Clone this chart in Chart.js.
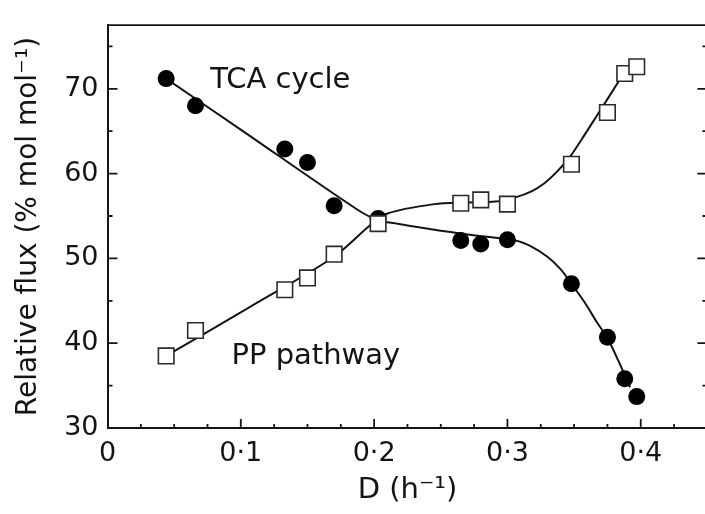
<!DOCTYPE html>
<html>
<head>
<meta charset="utf-8">
<script src="https://cdn.jsdelivr.net/npm/chart.js@4"></script>
<style>
html, body { margin: 0; padding: 0; background: #fff; overflow: hidden; width: 705px; height: 514px; }
</style>
</head>
<body>
<canvas id="chart-1" width="720" height="514"></canvas>
<script>
// Measured points (dilution rate D, h^-1) and relative fluxes (% mol mol^-1)
const dilutionRates = [0.044, 0.066, 0.133, 0.150, 0.170, 0.203, 0.265, 0.280, 0.300, 0.348, 0.375, 0.388, 0.397];
const tcaFlux = [71.2, 68.0, 62.9, 61.3, 56.2, 54.7, 52.1, 51.7, 52.2, 47.0, 40.7, 35.8, 33.7];
const ppFlux = [38.5, 41.5, 46.3, 47.7, 50.5, 54.1, 56.5, 56.9, 56.4, 61.1, 67.2, 71.8, 72.6];

// Fitted curves
const tcaFitD = [0.044, 0.098, 0.187, 0.203, 0.217, 0.244, 0.276, 0.306, 0.318, 0.330, 0.340, 0.348, 0.358, 0.367, 0.375, 0.383, 0.392];
const tcaFitFlux = [71.2, 65.4, 55.8, 54.5, 54.1, 53.4, 52.7, 52.1, 51.4, 50.2, 48.7, 47.0, 44.8, 42.5, 40.6, 38.0, 34.8];
const ppFitD = [0.044, 0.106, 0.170, 0.197, 0.210, 0.245, 0.269, 0.291, 0.306, 0.318, 0.328, 0.337, 0.347, 0.358, 0.369, 0.386];
const ppFitFlux = [38.5, 44.2, 50.2, 53.9, 55.3, 56.4, 56.6, 56.7, 57.2, 57.9, 58.9, 60.2, 62.0, 64.6, 67.3, 71.5];

const xTicks = [0, 0.1, 0.2, 0.3, 0.4];
const yTicks = [30, 40, 50, 60, 70];

const ink = '#141414';
const fontFamily = '"DejaVu Sans", sans-serif';

const toPoints = (xs, ys) => xs.map((d, i) => ({ x: d, y: ys[i] }));

// Frame on top/right plus inward major and minor ticks
const frame = {
    id: 'frame',
    afterDatasetsDraw(chart) {
        const { ctx, chartArea: a, scales: { x, y } } = chart;
        ctx.save();
        ctx.strokeStyle = ink;
        ctx.lineWidth = 1.8;
        ctx.beginPath();
        ctx.moveTo(a.left, a.top);
        ctx.lineTo(a.right, a.top);
        ctx.lineTo(a.right, a.bottom);
        for (let i = 1; i < 18; i++) {
            const px = x.getPixelForValue(i * 0.025);
            const len = i % 4 === 0 ? 9 : 4;
            ctx.moveTo(px, a.bottom);
            ctx.lineTo(px, a.bottom - len);
        }
        for (let i = 1; i < 10; i++) {
            const py = y.getPixelForValue(30 + i * 5);
            const len = i % 2 === 0 ? 10 : 5;
            ctx.moveTo(a.left, py);
            ctx.lineTo(a.left + len, py);
            ctx.moveTo(a.right, py);
            ctx.lineTo(a.right - len, py);
        }
        ctx.stroke();

        // curve labels
        ctx.fillStyle = ink;
        ctx.font = '29px ' + fontFamily;
        ctx.textBaseline = 'alphabetic';
        ctx.fillText('TCA cycle', x.getPixelForValue(0.077), y.getPixelForValue(70.1));
        ctx.fillText('PP pathway', x.getPixelForValue(0.093), y.getPixelForValue(37.5));
        ctx.restore();
    }
};

const ctx1 = document.getElementById('chart-1').getContext('2d');
const fluxChart = new Chart(ctx1, {
    type: 'scatter',
    data: {
        datasets: [
            {
                label: 'PP pathway',
                data: toPoints(dilutionRates, ppFlux),
                pointStyle: 'rect',
                pointRadius: 11,
                backgroundColor: '#ffffff',
                borderColor: '#2a2a2a',
                borderWidth: 1.6,
                order: 1,
            },
            {
                label: 'TCA cycle',
                data: toPoints(dilutionRates, tcaFlux),
                pointStyle: 'circle',
                pointRadius: 8.5,
                backgroundColor: '#000000',
                borderColor: '#000000',
                borderWidth: 0,
                order: 2,
            },
            {
                label: 'PP fit',
                data: toPoints(ppFitD, ppFitFlux),
                showLine: true,
                tension: 0.3,
                pointRadius: 0,
                borderColor: ink,
                borderWidth: 2,
                order: 3,
            },
            {
                label: 'TCA fit',
                data: toPoints(tcaFitD, tcaFitFlux),
                showLine: true,
                tension: 0.3,
                pointRadius: 0,
                borderColor: ink,
                borderWidth: 2,
                order: 4,
            },
        ],
    },
    options: {
        responsive: false,
        animation: false,
        layout: { padding: { top: 9, right: 6, bottom: 0, left: 0 } },
        plugins: {
            legend: { display: false },
            tooltip: { enabled: false },
        },
        scales: {
            x: {
                type: 'linear',
                min: 0,
                max: 0.45,
                afterBuildTicks: s => { s.ticks = xTicks.map(v => ({ value: v })); },
                afterFit: s => { s.height = 86; },
                grid: { display: false, drawTicks: false },
                border: { display: true, color: ink, width: 2 },
                ticks: {
                    color: ink,
                    padding: 10,
                    font: { family: fontFamily, size: 27 },
                    callback: v => v === 0 ? '0' : v.toFixed(1).replace('.', '\u00b7'),
                },
                title: {
                    display: true,
                    text: 'D (h\u207b\u00b9)',
                    color: ink,
                    font: { family: fontFamily, size: 29 },
                    padding: { top: 2, bottom: 6 },
                },
            },
            y: {
                type: 'linear',
                min: 30,
                max: 77.5,
                afterBuildTicks: s => { s.ticks = yTicks.map(v => ({ value: v })); },
                afterFit: s => { s.width = 107.5; },
                grid: { display: false, drawTicks: false },
                border: { display: true, color: ink, width: 2 },
                ticks: {
                    color: ink,
                    padding: 9,
                    font: { family: fontFamily, size: 27 },
                },
                title: {
                    display: true,
                    text: 'Relative flux (% mol mol\u207b\u00b9)',
                    color: ink,
                    font: { family: fontFamily, size: 28 },
                    padding: { top: 12, bottom: 0 },
                },
            },
        },
    },
    plugins: [frame],
});
</script>
</body>
</html>
